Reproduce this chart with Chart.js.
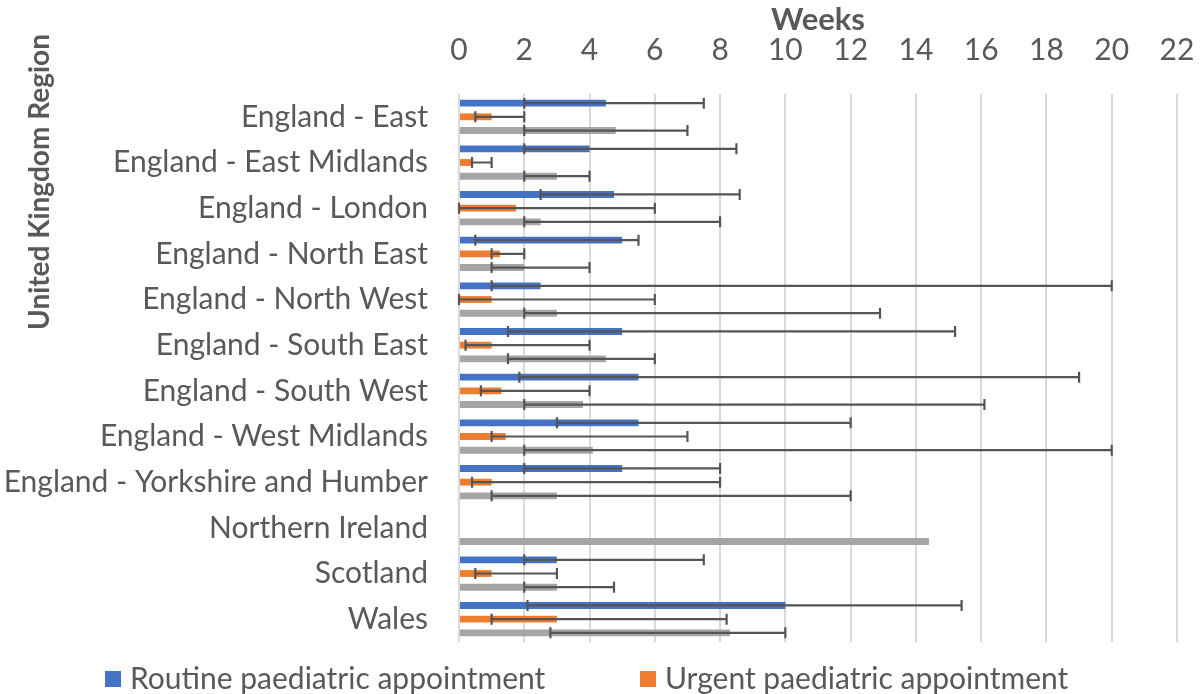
<!DOCTYPE html>
<html>
<head>
<meta charset="utf-8">
<script src="https://cdn.jsdelivr.net/npm/chart.js@4.4.1/dist/chart.umd.min.js"></script>
<style>
  html, body { margin: 0; padding: 0; background: #ffffff; }
  #wrap { width: 1201px; height: 694px; position: relative; }
</style>
</head>
<body>
<div id="wrap"><canvas id="chart" width="1201" height="694"></canvas></div>
<script>
// Regions (top to bottom)
const regions = [
  'England - East',
  'England - East Midlands',
  'England - London',
  'England - North East',
  'England - North West',
  'England - South East',
  'England - South West',
  'England - West Midlands',
  'England - Yorkshire and Humber',
  'Northern Ireland',
  'Scotland',
  'Wales'
];

// Waiting time in weeks, with the low / high end of each range
const routine    = [4.5, 4, 4.75, 5, 2.5, 5, 5.5, 5.5, 5, null, 3, 10];
const routineLow = [2, 2, 2.5, 0.5, 1, 1.5, 1.85, 3, 2, null, 2, 2.1];
const routineHigh= [7.5, 8.5, 8.6, 5.5, 20, 15.2, 19, 12, 8, null, 7.5, 15.4];

const urgent     = [1, 0.4, 1.75, 1.25, 1, 1, 1.3, 1.43, 1, null, 1, 3];
const urgentLow  = [0.5, 0.4, 0, 1, 0, 0.2, 0.67, 1, 0.4, null, 0.5, 1];
const urgentHigh = [2, 1, 6, 2, 6, 4, 4, 7, 8, null, 3, 8.2];

const other      = [4.8, 3, 2.5, 2, 3, 4.5, 3.8, 4.1, 3, 14.4, 3, 8.3];
const otherLow   = [2, 2, 2, 1, 2, 1.5, 2, 2, 1, null, 2, 2.8];
const otherHigh  = [7, 4, 8, 4, 12.9, 6, 16.1, 20, 12, null, 4.75, 10];

const weekTicks = [0, 2, 4, 6, 8, 10, 12, 14, 16, 18, 20, 22];

const seriesNames = ['Routine paediatric appointment', 'Urgent paediatric appointment', 'Other paediatric appointment'];
const seriesColors = ['#4472C4', '#ED7D31', '#A5A5A5'];
const ranges = [[routineLow, routineHigh], [urgentLow, urgentHigh], [otherLow, otherHigh]];

const FONT = 'Lato';
const TEXT = '#595959';

// Range whiskers drawn on top of each bar
const whiskers = {
  id: 'whiskers',
  afterDatasetsDraw(chart) {
    const ctx = chart.ctx;
    const xs = chart.scales.x;
    ctx.save();
    ctx.strokeStyle = '#555555';
    ctx.lineWidth = 2.2;
    chart.data.datasets.forEach((ds, i) => {
      const meta = chart.getDatasetMeta(i);
      const [lo, hi] = ranges[i];
      meta.data.forEach((el, j) => {
        if (lo[j] == null || hi[j] == null) return;
        const x1 = xs.getPixelForValue(lo[j]);
        const x2 = xs.getPixelForValue(hi[j]);
        const y = el.y;
        const c = 5.5;
        ctx.beginPath();
        ctx.moveTo(x1, y); ctx.lineTo(x2, y);
        ctx.moveTo(x1, y - c); ctx.lineTo(x1, y + c);
        ctx.moveTo(x2, y - c); ctx.lineTo(x2, y + c);
        ctx.stroke();
      });
    });
    ctx.restore();
  }
};

// Vertical axis title and legend row
const extras = {
  id: 'extras',
  afterDraw(chart) {
    const ctx = chart.ctx;
    ctx.save();
    ctx.fillStyle = TEXT;
    ctx.font = 'bold 28px ' + FONT;
    ctx.textAlign = 'center';
    ctx.textBaseline = 'middle';
    ctx.translate(40, 182);
    ctx.rotate(-Math.PI / 2);
    ctx.fillText('United Kingdom Region', 0, 0);
    ctx.restore();

    ctx.save();
    ctx.font = '30px ' + FONT;
    ctx.textBaseline = 'middle';
    ctx.textAlign = 'left';
    const legendY = 679;
    const starts = [105, 640];
    [0, 1].forEach(i => {
      ctx.fillStyle = seriesColors[i];
      ctx.fillRect(starts[i], legendY - 8, 16, 16);
      ctx.fillStyle = TEXT;
      ctx.fillText(seriesNames[i], starts[i] + 25, legendY);
    });
    ctx.restore();
  }
};

new Chart(document.getElementById('chart'), {
  type: 'bar',
  data: {
    labels: regions,
    datasets: [
      { label: seriesNames[0], data: routine, backgroundColor: seriesColors[0] },
      { label: seriesNames[1], data: urgent,  backgroundColor: seriesColors[1] },
      { label: seriesNames[2], data: other,   backgroundColor: seriesColors[2] }
    ]
  },
  options: {
    indexAxis: 'y',
    responsive: false,
    animation: false,
    layout: { padding: { left: 0, right: 24, top: 0, bottom: 52 } },
    datasets: { bar: { categoryPercentage: 0.9, barPercentage: 0.5 } },
    plugins: {
      legend: { display: false },
      tooltip: { enabled: false }
    },
    scales: {
      x: {
        position: 'top',
        min: 0,
        max: 22,
        afterBuildTicks(scale) { scale.ticks = weekTicks.map(v => ({ value: v })); },
        afterFit(scale) {
          scale.height = 94;
          scale.paddingLeft = 0;
          scale.paddingRight = 0;
        },
        ticks: { color: TEXT, font: { family: FONT, size: 30 }, padding: 26 },
        grid: { color: '#d9d9d9', lineWidth: 2, drawTicks: false },
        border: { display: false },
        title: { display: true, text: 'Weeks', color: TEXT, font: { family: FONT, size: 31, weight: 'bold' }, padding: { top: 1, bottom: 0 } }
      },
      y: {
        afterFit(scale) { scale.width = 459; },
        ticks: { color: TEXT, font: { family: FONT, size: 30 }, padding: 31 },
        grid: { display: false, drawTicks: false },
        border: { display: false }
      }
    }
  },
  plugins: [whiskers, extras]
});
</script>
</body>
</html>
